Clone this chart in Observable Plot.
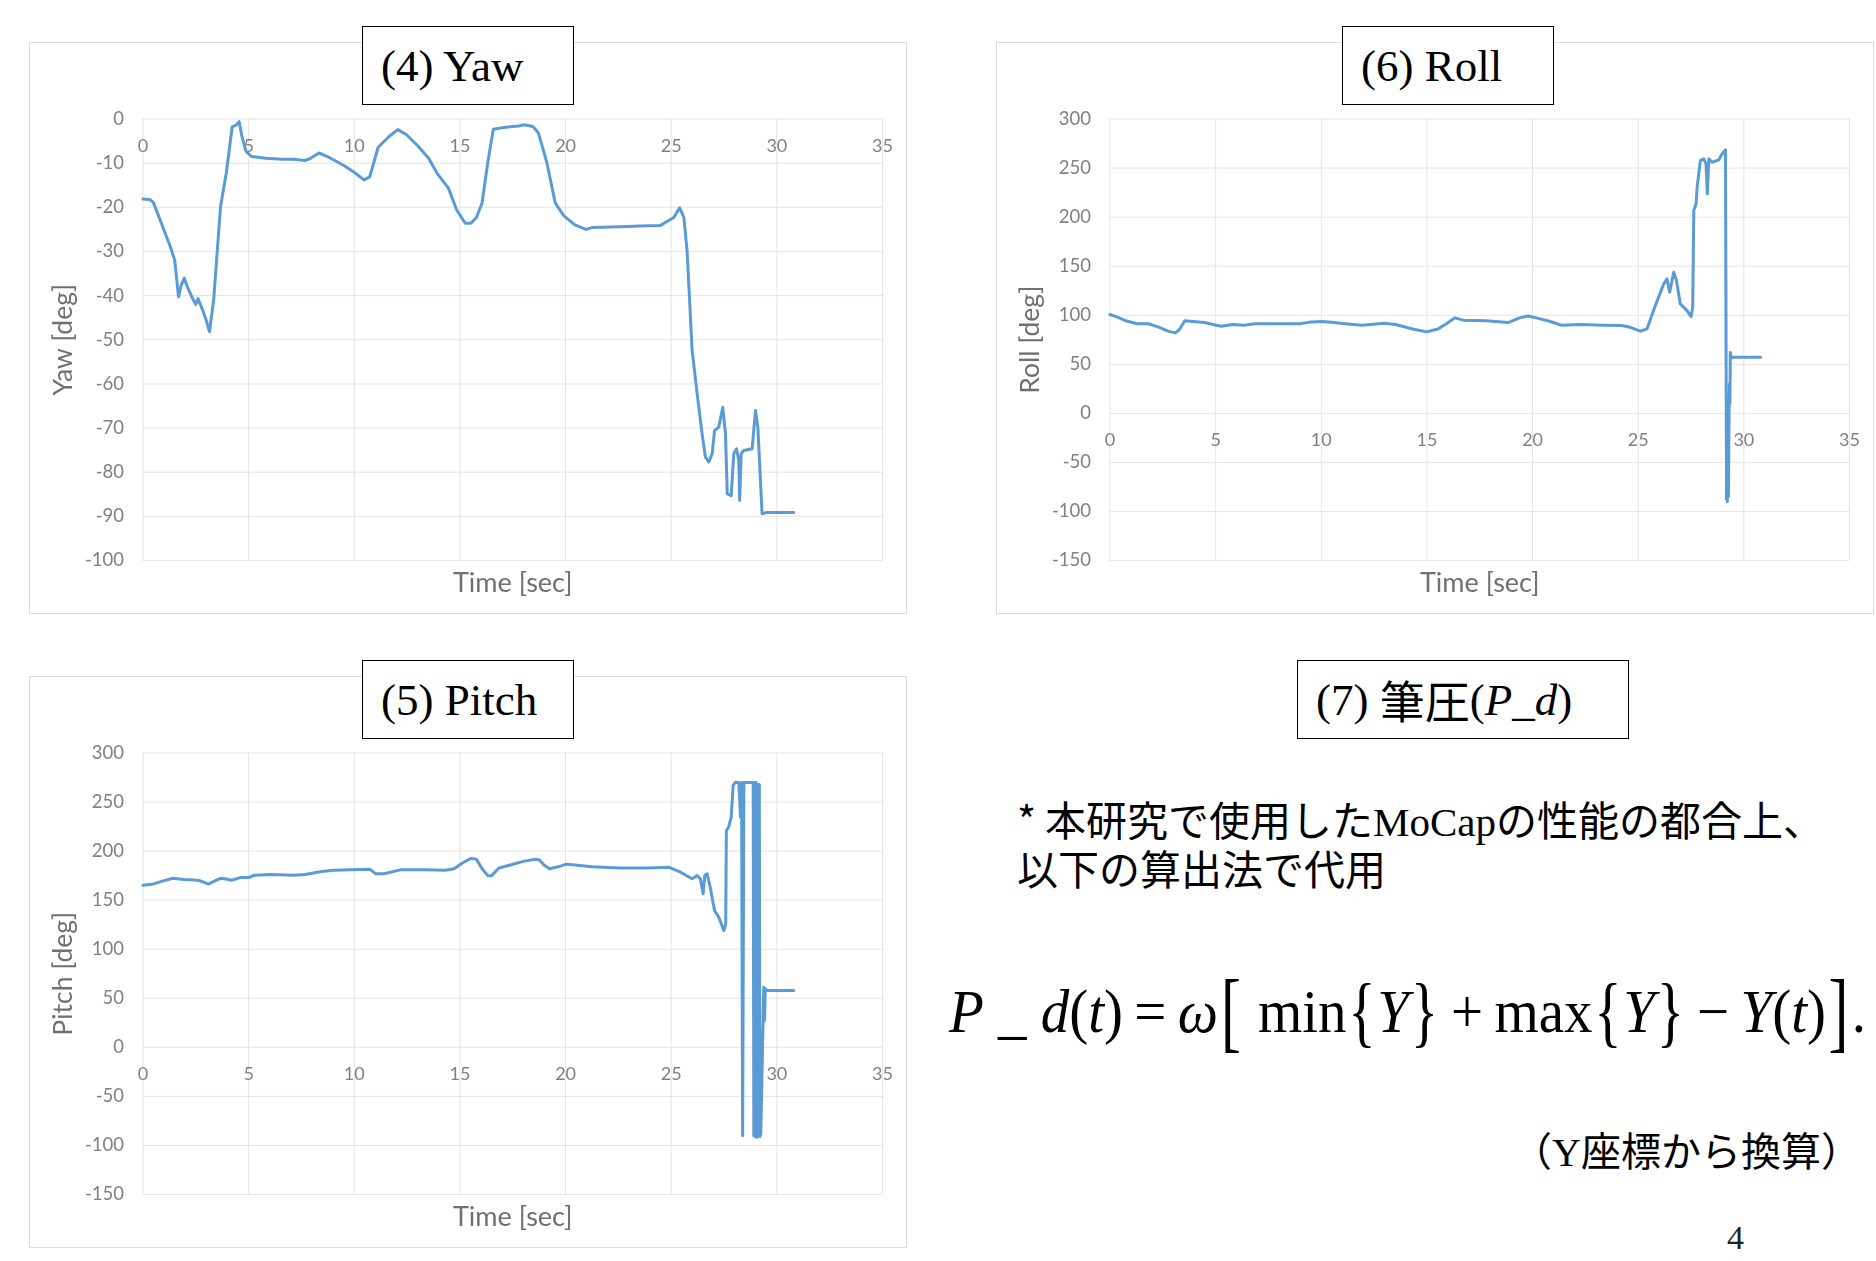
<!DOCTYPE html>
<html lang="ja">
<head>
<meta charset="utf-8">
<title>Yaw / Pitch / Roll / 筆圧</title>
<script src="https://cdn.jsdelivr.net/npm/d3@7"></script>
<script src="https://cdn.jsdelivr.net/npm/@observablehq/plot@0.6"></script>
<style>
  /* Japanese gothic face with tightened vertical metrics so stacked lines keep separate boxes */
  @font-face {
    font-family: "NoteJP";
    src: local("Noto Sans CJK JP"), local("Noto Sans CJK JP Regular"), local("NotoSansCJKjp-Regular"), local("NotoSansCJKJP-Regular");
    ascent-override: 88%;
    descent-override: 12%;
    line-gap-override: 0%;
  }
  html, body { margin: 0; padding: 0; background: #fff; }
  #page { position: relative; width: 1876px; height: 1261px; overflow: hidden; background: #fff; }
  .panel { position: absolute; width: 876px; height: 570px; outline: 1px solid #dcdcdc; background: #fff; }
  .panel svg { display: block; filter: blur(0.45px); }
  .tbox {
    position: absolute; height: 79px; box-sizing: border-box; border: 1.5px solid #000; background: #fff;
    display: flex; align-items: center; padding-left: 18px;
    font-family: "Liberation Serif", "Times New Roman", serif; font-size: 45px; color: #000; white-space: nowrap;
  }
  .cjk { font-family: "Noto Sans CJK JP", sans-serif; }
  .serif { font-family: "Liberation Serif", "Times New Roman", serif; }
  .note {
    position: absolute; left: 1017px; font-family: "NoteJP", "Noto Sans CJK JP", sans-serif; font-size: 41px;
    line-height: 41px; color: #000; white-space: nowrap;
  }
  #formula {
    position: absolute; left: 949px; top: 981px; font-family: "Liberation Serif", "Times New Roman", serif;
    font-size: 61px; line-height: 61px; white-space: nowrap; color: #000; transform-origin: left center;
  }
  #formula .br { display: inline-block; transform: scale(1.05, 1.45); margin: 0 0.06em; }
  #formula .brc { display: inline-block; transform: scale(1, 1.3); margin: 0 0.03em; }
  #formula .op { margin: 0 0.2em; }
  #conv { position: absolute; left: 1512px; top: 1131px; font-family: "NoteJP", "Noto Sans CJK JP", sans-serif; font-size: 40px; line-height: 40px; white-space: nowrap; }
  #pageno { position: absolute; left: 1727px; top: 1221px; font-family: "Liberation Serif", serif; font-size: 34px; line-height: 34px; color: #222; }
</style>
</head>
<body>
<div id="page">
  <div class="panel" id="yaw" style="left:30px; top:43px;"></div>
  <div class="panel" id="roll" style="left:997px; top:43px;"></div>
  <div class="panel" id="pitch" style="left:30px; top:677px;"></div>

  <div class="tbox" style="left:362px; top:26px; width:212px;">(4) Yaw</div>
  <div class="tbox" style="left:1342px; top:26px; width:212px;">(6) Roll</div>
  <div class="tbox" style="left:362px; top:660px; width:212px;">(5) Pitch</div>
  <div class="tbox" style="left:1297px; top:660px; width:332px;">(7)&nbsp;<span class="cjk">筆圧</span>(<i>P_d</i>)</div>

  <div class="note" style="top:800px;">* 本研究で使用した<span class="serif">MoCap</span>の性能の都合上、</div>
  <div class="note" style="top:849px;">以下の算出法で代用</div>

  <div id="formula"><i>P</i>&nbsp;_&nbsp;<i>d</i>(<i>t</i>)<span class="op">=</span><i>ω</i><span class="br">[</span>&nbsp;min<span class="brc">{</span><i>Y</i><span class="brc">}</span><span class="op">+</span>max<span class="brc">{</span><i>Y</i><span class="brc">}</span><span class="op">−</span><i>Y</i>(<i>t</i>)<span class="br">]</span>.</div>

  <div id="conv">（<span class="serif">Y</span>座標から換算）</div>
  <div id="pageno">4</div>
</div>

<script>
// Shared axis ticks and labels
const timeTicks = [0, 5, 10, 15, 20, 25, 30, 35];
const timeLabel = "Time [sec]";
const yawTicks = [0, -10, -20, -30, -40, -50, -60, -70, -80, -90, -100];
const angleTicks = [300, 250, 200, 150, 100, 50, 0, -50, -100, -150];

// Yaw angle [deg] over time [sec]
const yawPoints = [
  [0, -18.1], [0.35, -18.3], [0.5, -19], [0.9, -24], [1.3, -29], [1.5, -32], [1.6, -36.5], [1.68, -40.3],
  [1.8, -37.8], [1.95, -36], [2.1, -38], [2.35, -40.7], [2.5, -42], [2.6, -40.7], [2.8, -43], [3.0, -45.7],
  [3.15, -48.2], [3.35, -40.7], [3.67, -19.8], [3.94, -12.3], [4.22, -1.8], [4.4, -1.4], [4.55, -0.6],
  [4.68, -3.9], [4.87, -7.3], [5.14, -8.5], [5.8, -8.9], [6.6, -9.1], [7.13, -9.1], [7.67, -9.4], [7.93, -8.9],
  [8.33, -7.7], [8.73, -8.5], [9.53, -10.6], [10.06, -12.3], [10.46, -13.8], [10.73, -13.1], [11.13, -6.4],
  [11.66, -3.9], [12.06, -2.4], [12.46, -3.5], [12.99, -6.0], [13.52, -8.9], [13.92, -12.3], [14.19, -14],
  [14.45, -15.6], [14.85, -20.6], [15.25, -23.6], [15.52, -23.6], [15.78, -22.3], [16.05, -19], [16.32, -9.8],
  [16.58, -2.3], [16.85, -2.1], [17.25, -1.8], [17.78, -1.6], [18.05, -1.3], [18.45, -1.7], [18.71, -3.1],
  [19.11, -9.8], [19.51, -19], [19.91, -21.9], [20.44, -24], [20.97, -25], [21.24, -24.6], [22.57, -24.4],
  [23.9, -24.2], [24.49, -24.1], [25.12, -22.3], [25.4, -20.1], [25.6, -22.3], [25.75, -29.8], [25.99, -52.4],
  [26.23, -62.3], [26.46, -71.3], [26.62, -76.6], [26.78, -77.7], [26.94, -75.8], [27.05, -70.6], [27.25, -69.8],
  [27.44, -65.3], [27.57, -71.3], [27.65, -84.9], [27.84, -85.3], [27.96, -75.8], [28.09, -74.7], [28.2, -77.4],
  [28.24, -86.4], [28.31, -75.8], [28.43, -75.1], [28.83, -74.7], [28.99, -66], [29.1, -69.8], [29.3, -89.4],
  [29.54, -89.1], [30.8, -89.1]
];

// Roll angle [deg] over time [sec]
const rollPoints = [
  [0, 100.7], [0.35, 98], [0.75, 94.3], [1.28, 91.3], [1.81, 91.3], [2.34, 87.6], [2.74, 83.8], [3.09, 82],
  [3.27, 85], [3.54, 94.3], [3.94, 93.6], [4.47, 92.5], [4.87, 90.6], [5.27, 88.7], [5.8, 90.6], [6.33, 89.8],
  [6.87, 91.3], [7.93, 91.3], [9.0, 91.3], [9.53, 93.2], [10.06, 93.6], [10.59, 92.5], [11.13, 91.3],
  [11.92, 89.8], [12.99, 91.7], [13.52, 90.6], [14.32, 86], [14.99, 83], [15.52, 86], [15.92, 91.3],
  [16.32, 97.3], [16.72, 95], [17.78, 94.3], [18.84, 92.5], [19.38, 97.3], [19.78, 99.2], [20.18, 97.3],
  [20.84, 93.6], [21.37, 89.8], [22.3, 90.6], [23.37, 89.8], [24.23, 89.5], [24.62, 87.7], [25.1, 83.7],
  [25.42, 86.1], [25.81, 109.8], [26.21, 132], [26.36, 137], [26.49, 123.4], [26.68, 143.8], [26.81, 135.3],
  [26.99, 111.6], [27.31, 104.7], [27.5, 98.6], [27.58, 108.1], [27.63, 206.7], [27.74, 213.5], [27.79, 230.4],
  [27.94, 257.6], [28.1, 259.3], [28.21, 254.2], [28.27, 223.7], [28.34, 259.3], [28.5, 255.9], [28.81, 258.3],
  [28.97, 264.4], [29.13, 268.5], [29.18, -88], [29.2, -60], [29.22, -90], [29.25, -40], [29.27, -85],
  [29.3, 0], [29.32, 30], [29.34, 10], [29.36, 62], [29.4, 56], [29.45, 57.2], [30.79, 57.2]
];

// Pitch angle [deg] over time [sec]
const pitchPoints = [
  [0, 165.2], [0.48, 166.4], [0.88, 169.1], [1.41, 172.3], [1.94, 171.1], [2.61, 170.3], [2.87, 168.4],
  [3.09, 166.4], [3.35, 169.1], [3.67, 172.3], [3.94, 171.5], [4.2, 170.3], [4.6, 173], [5.0, 173],
  [5.27, 175.4], [6.07, 176.2], [7.13, 175.4], [7.67, 176.2], [8.46, 179.3], [9.0, 180.5], [9.8, 180.9],
  [10.73, 181.6], [11.0, 177], [11.39, 177], [12.19, 180.9], [13.26, 180.9], [14.32, 180.5], [14.72, 182],
  [15.12, 187.9], [15.52, 192.6], [15.78, 191.8], [16.05, 182], [16.32, 175], [16.5, 175], [16.85, 182.8],
  [17.38, 185.9], [18.05, 189.8], [18.58, 191.8], [18.76, 191], [18.98, 185.9], [19.24, 182], [19.64, 184],
  [20.04, 186.7], [20.44, 185.9], [21.24, 184], [22.57, 182.8], [23.9, 182.8], [24.88, 183.6], [25.44, 178.5],
  [25.99, 171.8], [26.23, 175.1], [26.38, 171.8], [26.51, 156.5], [26.59, 175.1], [26.7, 176.9], [26.83, 164.9],
  [27.05, 139.5], [27.25, 132.6], [27.49, 119.1], [27.58, 125.9], [27.61, 221], [27.72, 224.4], [27.84, 234.6],
  [27.93, 266.9], [28.04, 270.2], [28.2, 270], [28.28, 234.6], [28.33, 270], [28.38, -90], [28.44, 270],
  [28.88, 270], [28.91, -90], [28.95, 270], [28.98, -91], [29.02, 270], [29.06, -92], [29.1, 268], [29.14, -90],
  [29.17, 268], [29.2, -91], [29.24, -88], [29.38, 61.3], [29.42, 27], [29.45, 60], [29.51, 58], [30.8, 58]
];

const lineBlue = "#5b9bd5";
const gridGray = "#e4e4e4";
const tickGray = "#808080";
const titleGray = "#707070";

// One Excel-style time-series panel: gridlines, y ticks on the left,
// x tick labels hung below the y = xCross line, rotated y title, time title.
function anglePanel({points, yDomain, yTicks, xCross, yLabel}) {
  const data = points.map(([t, v]) => ({t, v}));
  return Plot.plot({
    width: 876,
    height: 570,
    marginLeft: 112.5,
    marginRight: 24,
    marginTop: 75.5,
    marginBottom: 53,
    x: {domain: [0, 35], axis: null},
    y: {domain: yDomain, axis: null},
    style: {fontFamily: "Lato, 'Open Sans', sans-serif", background: "transparent", overflow: "visible"},
    marks: [
      Plot.gridX(timeTicks, {stroke: gridGray, strokeOpacity: 1, strokeWidth: 1}),
      Plot.gridY(yTicks, {stroke: gridGray, strokeOpacity: 1, strokeWidth: 1}),
      Plot.axisY(yTicks, {tickSize: 0, tickPadding: 19, fontSize: 18.5, color: tickGray, tickFormat: (d) => `${d}`, label: null}),
      Plot.text(timeTicks, {x: (d) => d, y: () => xCross, dy: 27, fontSize: 18, fill: tickGray, text: (d) => `${d}`}),
      Plot.text([yLabel], {frameAnchor: "left", textAnchor: "middle", lineAnchor: "middle", rotate: -90, dx: -79.5, fontSize: 26.5, fill: titleGray}),
      Plot.text([timeLabel], {frameAnchor: "bottom", textAnchor: "middle", lineAnchor: "middle", dy: 23, fontSize: 27, fill: titleGray}),
      Plot.line(data, {x: "t", y: "v", stroke: lineBlue, strokeWidth: 3, strokeLinejoin: "round", strokeLinecap: "round"})
    ]
  });
}

document.getElementById("yaw").append(anglePanel({
  points: yawPoints, yDomain: [-100, 0], yTicks: yawTicks, xCross: 0, yLabel: "Yaw [deg]"
}));
document.getElementById("roll").append(anglePanel({
  points: rollPoints, yDomain: [-150, 300], yTicks: angleTicks, xCross: 0, yLabel: "Roll [deg]"
}));
document.getElementById("pitch").append(anglePanel({
  points: pitchPoints, yDomain: [-150, 300], yTicks: angleTicks, xCross: 0, yLabel: "Pitch [deg]"
}));

// Stretch the formula line horizontally so it spans its column.
function fitFormula() {
  const f = document.getElementById("formula");
  f.style.transform = "none";
  const w = f.getBoundingClientRect().width;
  if (w > 0) f.style.transform = `scaleX(${917 / w})`;
}
fitFormula();
if (document.fonts && document.fonts.ready) document.fonts.ready.then(fitFormula);
</script>
</body>
</html>
